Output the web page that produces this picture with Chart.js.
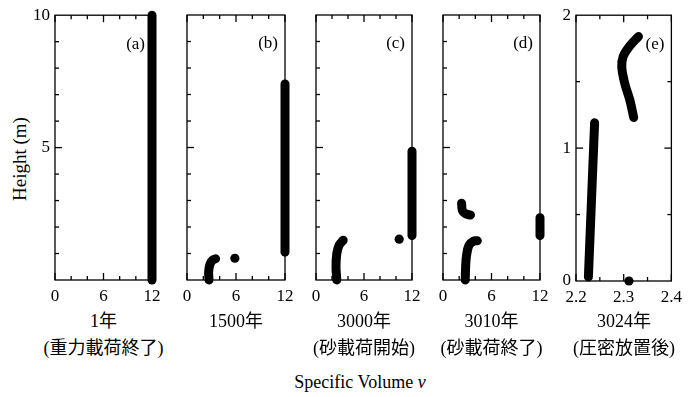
<!DOCTYPE html>
<html>
<head>
<meta charset="utf-8">
<script src="https://cdn.jsdelivr.net/npm/chart.js@4.4.0/dist/chart.umd.min.js"></script>
<style>
  body { margin: 0; background: #fff; }
  #wrap {
    position: relative; width: 697px; height: 397px; overflow: hidden; background: #fff; color: #000;
    font-family: "Liberation Serif", "Noto Sans CJK JP", serif;
  }
  #wrap canvas { position: absolute; top: 0; }
  .lbl { position: absolute; text-align: center; font-size: 18px; line-height: 20px; white-space: nowrap; }
  #ytitle {
    position: absolute; left: 20px; top: 159px; font-size: 19px; white-space: nowrap;
    transform: translate(-50%, -50%) rotate(-90deg);
  }
</style>
</head>
<body>
<div id="wrap">
  <div id="ytitle">Height (m)</div>
  <div class="lbl" style="left:260px; width:200px; top:372px;">Specific Volume <i>v</i></div>
</div>
<script>
const panelTags = ["(a)", "(b)", "(c)", "(d)", "(e)"];
const yearLabels = ["1年", "1500年", "3000年", "3010年", "3024年"];
const stageLabels = ["(重力載荷終了)", "", "(砂載荷開始)", "(砂載荷終了)", "(圧密放置後)"];

// specific volume v vs height (m)
const colA = [[12, 0], [12, 10]];

const colB = [[12, 1.05], [12, 7.4]];
const hookB = [[2.7, 0], [2.65, 0.3], [2.8, 0.58], [3.1, 0.74], [3.5, 0.8]];
const dotB = [[5.86, 0.82]];

const colC = [[12, 1.68], [12, 4.86]];
const hookC = [[2.6, 0], [2.5, 0.5], [2.6, 1.0], [2.9, 1.32], [3.4, 1.5]];
const dotC = [[10.4, 1.54]];

const colD = [[12, 1.68], [12, 2.35]];
const upperD = [[2.3, 2.9], [2.4, 2.62], [2.8, 2.5], [3.4, 2.45]];
const lowerD = [[2.75, 0], [2.8, 0.5], [2.9, 0.9], [3.2, 1.3], [3.8, 1.47], [4.25, 1.48]];

const lowerE = [[2.226, 0.03], [2.239, 1.19]];
const upperE = [[2.321, 1.23], [2.313, 1.36], [2.302, 1.49], [2.296, 1.61], [2.299, 1.69], [2.313, 1.77], [2.331, 1.84]];
const dotE = [[2.311, 0]];

// axis ticks
const vTicks = [0, 6, 12];
const vMinor = [2, 4, 8, 10];
const hTicks = [5, 10];
const hMinor = [1, 2, 3, 4, 6, 7, 8, 9];
const vTicksE = [2.2, 2.3, 2.4];
const vMinorE = [2.25, 2.35];
const hTicksE = [0, 1, 2];
const hMinorE = [0.5, 1.5];

// panel placement on the page
const panelLeft = [55, 187, 316, 443, 576];
const panelWidth = [97, 98, 96, 97, 96];
const padL = 40, padR = 16;

Chart.defaults.font.family = '"Liberation Serif", serif';
Chart.defaults.color = "#000";

const toXY = (pts) => pts.map((p) => ({ x: p[0], y: p[1] }));

const trace = (pts) => ({
  data: toXY(pts),
  showLine: true,
  borderColor: "#000",
  borderWidth: 9,
  borderCapStyle: "round",
  borderJoinStyle: "round",
  pointRadius: 0,
  tension: 0.35,
  clip: false,
});

const dots = (pts) => ({
  data: toXY(pts),
  showLine: false,
  pointRadius: 4.6,
  backgroundColor: "#000",
  borderWidth: 0,
  clip: false,
});

const framePlugin = {
  id: "frame",
  beforeDatasetsDraw(chart, args, o) {
    const { ctx, chartArea: a } = chart;
    const x = chart.scales.x, y = chart.scales.y;
    ctx.save();
    ctx.strokeStyle = "#000";
    ctx.lineWidth = 1.3;
    ctx.strokeRect(a.left, a.top, a.right - a.left, a.bottom - a.top);

    const seg = (x1, y1, x2, y2) => {
      ctx.beginPath();
      ctx.moveTo(x1, y1);
      ctx.lineTo(x2, y2);
      ctx.stroke();
    };
    const xMarks = (vals, len) => vals.forEach((v) => {
      const px = x.getPixelForValue(v);
      seg(px, a.bottom, px, a.bottom - len);
      seg(px, a.top, px, a.top + len);
    });
    const yMarks = (vals, len) => vals.forEach((v) => {
      const py = y.getPixelForValue(v);
      seg(a.left, py, a.left + len, py);
      if (o.rightTicks) seg(a.right, py, a.right - len, py);
    });
    xMarks(o.xMinor, 4);
    xMarks(o.xMajor, 7);
    yMarks(o.yMinor, 4);
    yMarks(o.yMajor, 7);

    ctx.fillStyle = "#000";
    ctx.font = '17px "Liberation Serif", serif';
    ctx.textAlign = "right";
    ctx.textBaseline = "middle";
    ctx.fillText(o.tag, a.right - 7, a.top + 29);
    ctx.restore();
  },
};

const wrap = document.getElementById("wrap");

function makePanel(i, p) {
  const canvas = document.createElement("canvas");
  canvas.width = padL + panelWidth[i] + padR;
  canvas.height = p.height;
  canvas.style.left = panelLeft[i] - padL + "px";
  wrap.appendChild(canvas);

  const label = document.createElement("div");
  label.className = "lbl";
  label.style.left = panelLeft[i] - 30 + "px";
  label.style.width = panelWidth[i] + 60 + "px";
  label.style.top = "311px";
  label.textContent = yearLabels[i];
  wrap.appendChild(label);

  if (stageLabels[i]) {
    const sub = document.createElement("div");
    sub.className = "lbl";
    sub.style.left = panelLeft[i] - 30 + "px";
    sub.style.width = panelWidth[i] + 60 + "px";
    sub.style.top = "338px";
    sub.textContent = stageLabels[i];
    wrap.appendChild(sub);
  }

  const tickFont = { size: 17 };

  return new Chart(canvas, {
    type: "scatter",
    data: { datasets: p.datasets },
    options: {
      responsive: false,
      animation: false,
      layout: { padding: { top: 15, right: padR, left: 0, bottom: 0 } },
      plugins: {
        legend: { display: false },
        tooltip: { enabled: false },
        frame: {
          tag: panelTags[i],
          xMajor: p.xTicks, xMinor: p.xMinor,
          yMajor: p.yMajor, yMinor: p.yMinor,
          rightTicks: p.rightTicks,
        },
      },
      scales: {
        x: {
          type: "linear",
          min: p.xTicks[0],
          max: p.xTicks[p.xTicks.length - 1],
          afterBuildTicks: (s) => { s.ticks = p.xTicks.map((v) => ({ value: v })); },
          afterFit: (s) => { s.height = 30; },
          ticks: {
            autoSkip: false, maxRotation: 0, padding: 6, font: tickFont,
            callback: (v, k) => String(p.xTicks[k]),
          },
          grid: { display: false, drawTicks: false },
          border: { display: false },
        },
        y: {
          type: "linear",
          min: p.yMin,
          max: p.yMax,
          afterBuildTicks: (s) => { s.ticks = p.yTicks.map((v) => ({ value: v })); },
          afterFit: (s) => { s.width = padL; },
          ticks: {
            display: p.yTicks.length > 0, autoSkip: false, padding: 5, font: tickFont,
            callback: (v, k) => String(p.yTicks[k]),
          },
          grid: { display: false, drawTicks: false },
          border: { display: false },
        },
      },
    },
    plugins: [framePlugin],
  });
}

const leftPanel = (datasets, yTicks) => ({
  datasets, yTicks, height: 310,
  xTicks: vTicks, xMinor: vMinor,
  yMin: 0, yMax: 10, yMajor: [5], yMinor: hMinor,
  rightTicks: false,
});

makePanel(0, leftPanel([trace(colA)], hTicks));
makePanel(1, leftPanel([trace(colB), trace(hookB), dots(dotB)], []));
makePanel(2, leftPanel([trace(colC), trace(hookC), dots(dotC)], []));
makePanel(3, leftPanel([trace(colD), trace(upperD), trace(lowerD)], []));
makePanel(4, {
  datasets: [trace(lowerE), trace(upperE), dots(dotE)],
  yTicks: hTicksE, height: 311,
  xTicks: vTicksE, xMinor: vMinorE,
  yMin: 0, yMax: 2, yMajor: [1], yMinor: hMinorE,
  rightTicks: true,
});
</script>
</body>
</html>
